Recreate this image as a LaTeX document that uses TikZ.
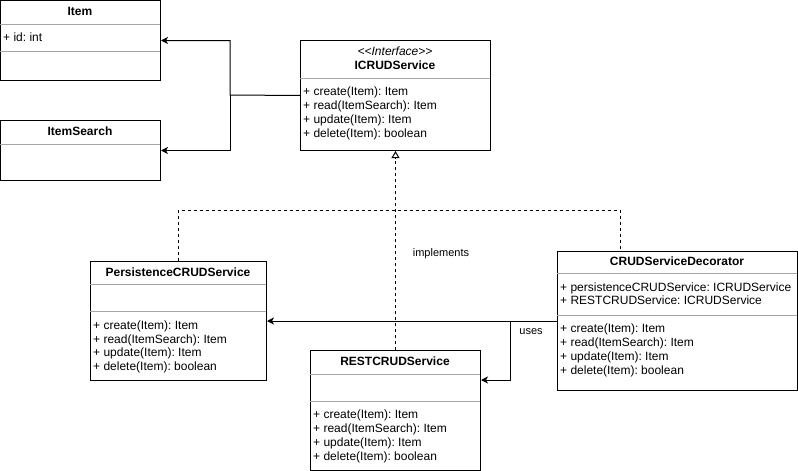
\documentclass[tikz,border=0pt]{standalone}
\usepackage{fontspec}
\setmainfont{Liberation Sans}
\usetikzlibrary{arrows.meta}
\frenchspacing
\begin{document}
\begin{tikzpicture}[x=1pt,y=-1pt,
  box/.style={draw, line width=1pt, rectangle, inner sep=0pt, anchor=north west},
  sep/.style={draw=gray!70, line width=1pt},
  txt/.style={anchor=base west, inner sep=0pt, font=\fontsize{12}{14}\selectfont},
  ttl/.style={anchor=base, inner sep=0pt, font=\fontsize{12}{14}\selectfont\bfseries},
  lbl/.style={inner sep=0pt, font=\fontsize{11}{13}\selectfont},
  arr/.style={line width=1pt, -{Stealth[length=7pt,width=7pt,inset=2pt]}},
  impl/.style={line width=1pt, dash pattern=on 3pt off 3pt},
]
\useasboundingbox[fill=white] (0,0) rectangle (798,471);

% Item
\node[box, minimum width=160, minimum height=80] (item) at (0,0) {};
\draw[sep] (0,24) -- (160,24);
\draw[sep] (0,51) -- (160,51);
\node[ttl] (itemt) at (80,15.3) {Item};
\node[txt] (itema) at (3,41.5) {+ id: int};

% ItemSearch
\node[box, minimum width=160, minimum height=60] (isearch) at (0,120) {};
\draw[sep] (0,144) -- (160,144);
\node[ttl] (isearcht) at (80,135) {ItemSearch};

% ICRUDService
\node[box, minimum width=190, minimum height=110] (icrud) at (300,40) {};
\draw[sep] (300,78.5) -- (490,78.5);
\node[anchor=base, inner sep=0pt, font=\fontsize{12}{14}\selectfont\itshape] (icrudst) at (395,55.3) {<{}<Interface>{}>};
\node[ttl] (icrudt) at (395,69.3) {ICRUDService};
\foreach \t [count=\i from 0] in {+ create(Item): Item, + read(ItemSearch): Item, + update(Item): Item, + delete(Item): boolean}
  \node[txt] (ic\i) at (303,95.5+14*\i) {\t};

% PersistenceCRUDService
\node[box, minimum width=176, minimum height=119] (pers) at (90,261) {};
\draw[sep] (90,284) -- (266,284);
\draw[sep] (90,311) -- (266,311);
\node[ttl] (perst) at (178,276) {PersistenceCRUDService};
\foreach \t [count=\i from 0] in {+ create(Item): Item, + read(ItemSearch): Item, + update(Item): Item, + delete(Item): boolean}
  \node[txt] (pm\i) at (93,329.5+13.6*\i) {\t};

% RESTCRUDService
\node[box, minimum width=170, minimum height=120] (rest) at (310,350) {};
\draw[sep] (310,374) -- (480,374);
\draw[sep] (310,401) -- (480,401);
\node[ttl] (restt) at (395,365.5) {RESTCRUDService};
\foreach \t [count=\i from 0] in {+ create(Item): Item, + read(ItemSearch): Item, + update(Item): Item, + delete(Item): boolean}
  \node[txt] (rm\i) at (313,418+14*\i) {\t};

% CRUDServiceDecorator
\node[box, minimum width=240, minimum height=139] (deco) at (557,251) {};
\draw[sep] (557,273) -- (797,273);
\draw[sep] (557,315) -- (797,315);
\node[ttl] (decot) at (677,265) {CRUDServiceDecorator};
\node[txt] (da0) at (560,291) {+ persistenceCRUDService: ICRUDService};
\node[txt] (da1) at (560,304.5) {+ RESTCRUDService: ICRUDService};
\foreach \t [count=\i from 0] in {+ create(Item): Item, + read(ItemSearch): Item, + update(Item): Item, + delete(Item): boolean}
  \node[txt] (dm\i) at (560,332+14*\i) {\t};

% connectors: ICRUDService -> Item, ItemSearch
\coordinate (jn) at (230,95);
\draw[arr] (icrud.west) -- (jn) |- (item.east);
\draw[arr] (jn) |- (isearch.east);

% implements
\coordinate (dr) at (620,210);
\draw[impl] (pers.north) |- (dr) -- (dr |- deco.north);
\draw[impl, -{Triangle[open,length=7pt,width=8pt]}] (rest.north) -- (icrud.south);
\node[lbl] (implbl) at (441,254) {implements};

% uses
\draw[arr] (deco.west) -- (pers.east);
\coordinate (uj) at (510,320.5);
\draw[arr] (uj) |- ([yshift=-30pt]rest.north east);
\node[lbl] (useslbl) at (531,332) {uses};
\end{tikzpicture}
\end{document}
